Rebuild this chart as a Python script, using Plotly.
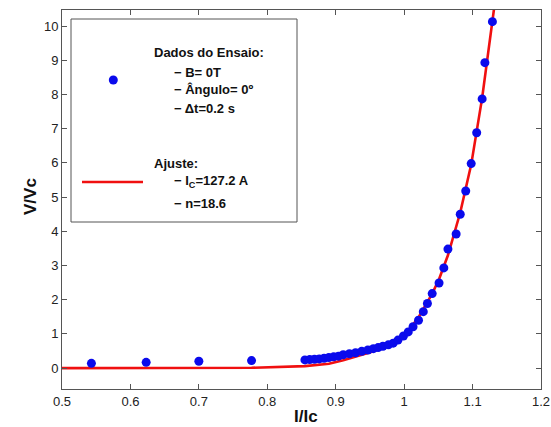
import plotly.graph_objects as go

# Measured points: normalised current I/Ic and normalised voltage V/Vc
i_norm = [0.543, 0.623, 0.700, 0.777, 0.855, 0.862, 0.869, 0.876, 0.883, 0.890,
          0.897, 0.904, 0.911, 0.920, 0.929, 0.938, 0.947, 0.955, 0.962, 0.969,
          0.977, 0.984, 0.991, 0.999, 1.006, 1.013, 1.021, 1.028, 1.034, 1.041,
          1.051, 1.058, 1.064, 1.076, 1.082, 1.090, 1.098, 1.106, 1.114, 1.118,
          1.129]
v_norm = [0.14, 0.17, 0.20, 0.22, 0.24, 0.25, 0.26, 0.27, 0.29, 0.31,
          0.33, 0.35, 0.39, 0.42, 0.45, 0.49, 0.53, 0.57, 0.60, 0.64,
          0.68, 0.73, 0.82, 0.94, 1.06, 1.21, 1.40, 1.65, 1.89, 2.18,
          2.49, 2.93, 3.48, 3.92, 4.50, 5.18, 5.98, 6.88, 7.87, 8.93,
          10.13]

# Fitted power-law curve (Ic = 127.2 A, n = 18.6)
fit_i = [0.500, 0.543, 0.623, 0.700, 0.777, 0.855, 0.890, 0.911, 0.929, 0.947,
         0.962, 0.977, 0.991, 1.006, 1.021, 1.034, 1.041, 1.051, 1.064, 1.082,
         1.098, 1.114, 1.129, 1.140]
fit_v = [0.00, 0.00, 0.00, 0.00, 0.01, 0.06, 0.13, 0.23, 0.33, 0.44,
         0.54, 0.67, 0.84, 1.10, 1.48, 1.92, 2.18, 2.60, 3.30, 4.55,
         5.95, 7.90, 10.10, 11.80]

x_ticks = [0.5, 0.6, 0.7, 0.8, 0.9, 1.0, 1.1, 1.2]
x_tick_text = ["0.5", "0.6", "0.7", "0.8", "0.9", "1", "1.1", "1.2"]
y_ticks = list(range(0, 11))

X_RANGE = [0.5, 1.2]
Y_RANGE = [-0.61, 10.47]

W, H = 551, 427
ML, MR, MT, MB = 62, 10, 10, 38
PW, PH = W - ML - MR, H - MT - MB


def px(xp):
    return (xp - ML) / PW


def py(yp):
    return (H - MB - yp) / PH


FONT = "Arial, Liberation Sans, sans-serif"
BLUE = "#0a0aec"
RED = "#f01010"

fig = go.Figure()
fig.add_trace(go.Scatter(
    x=fit_i, y=fit_v, mode="lines",
    line=dict(color=RED, width=2.6),
    cliponaxis=True, hoverinfo="skip"))
fig.add_trace(go.Scatter(
    x=i_norm, y=v_norm, mode="markers",
    marker=dict(color=BLUE, size=9, line=dict(width=0))))

# Legend box drawn by hand
shapes = [
    dict(type="rect", xref="paper", yref="paper",
         x0=px(71), x1=px(297), y0=py(222), y1=py(19),
         line=dict(color="#555555", width=1), fillcolor="white", layer="below"),
    dict(type="line", xref="paper", yref="paper",
         x0=px(82), x1=px(143), y0=py(182), y1=py(182),
         line=dict(color=RED, width=2.6)),
    dict(type="circle", xref="paper", yref="paper",
         xsizemode="pixel", ysizemode="pixel",
         xanchor=px(113.3), yanchor=py(80),
         x0=-4.5, x1=4.5, y0=-4.5, y1=4.5,
         line=dict(width=0), fillcolor=BLUE),
]

legend_lines = [
    (151.5, 52, "Dados do Ensaio:"),
    (172, 72.5, "\u2212 B= 0T"),
    (172, 90, "\u2212 \u00c2ngulo= 0\u00ba"),
    (172, 108, "\u2212 \u0394t=0.2 s"),
    (151.5, 164, "Ajuste:"),
    (172, 181, "\u2212 I<sub>C</sub>=127.2 A"),
    (172, 203, "\u2212 n=18.6"),
]
annotations = []
for xp_, yp_, txt in legend_lines:
    annotations.append(dict(
        xref="paper", yref="paper", x=px(xp_), y=py(yp_),
        xanchor="left", yanchor="middle", showarrow=False,
        text="<b>" + txt + "</b>",
        font=dict(family=FONT, size=13, color="#111111")))

# Axis titles
annotations.append(dict(
    xref="paper", yref="paper", x=px(30), y=py(197),
    xanchor="center", yanchor="middle", showarrow=False, textangle=-90,
    text="<b>V/Vc</b>", font=dict(family=FONT, size=17, color="#111111")))
annotations.append(dict(
    xref="paper", yref="paper", x=px(306), y=py(416),
    xanchor="center", yanchor="middle", showarrow=False,
    text="<b>I/Ic</b>", font=dict(family=FONT, size=17, color="#111111")))

axis_common = dict(
    showgrid=False, zeroline=False, showline=True, linecolor="#555555",
    linewidth=1, mirror="allticks", ticks="inside", ticklen=5,
    tickcolor="#555555", automargin=False,
    tickfont=dict(family=FONT, size=13, color="#222222"))

fig.update_layout(
    width=W, height=H,
    margin=dict(l=ML, r=MR, t=MT, b=MB),
    paper_bgcolor="white", plot_bgcolor="white",
    showlegend=False,
    shapes=shapes, annotations=annotations,
    xaxis=dict(range=X_RANGE, tickvals=x_ticks, ticktext=x_tick_text,
               **axis_common),
    yaxis=dict(range=Y_RANGE, tickvals=y_ticks, **axis_common),
)

fig.write_html("out.html")
